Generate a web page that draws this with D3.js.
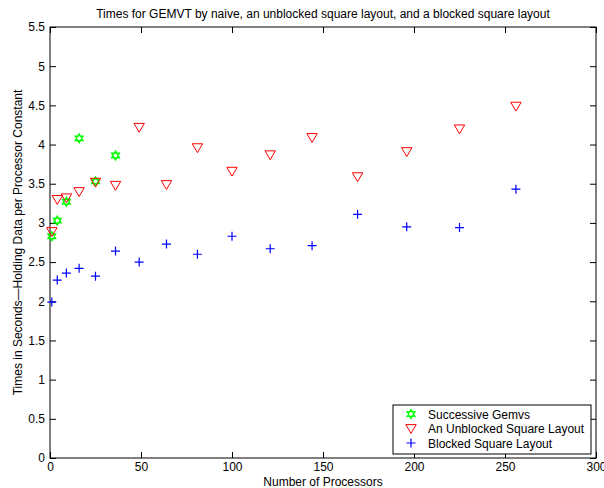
<!DOCTYPE html>
<html>
<head>
<meta charset="utf-8">
<script src="https://cdn.jsdelivr.net/npm/d3@7"></script>
<style>
  body { margin: 0; background: #fff; }
  text { font-family: "Liberation Sans", Arial, sans-serif; }
</style>
</head>
<body>
<svg id="chart" width="604" height="488"></svg>
<script>
// processor counts
const procs = [1, 4, 9, 16, 25, 36, 49, 64, 81, 100, 121, 144, 169, 196, 225, 256];
const gemvsProcs = [1, 4, 9, 16, 25, 36];

// times (seconds)
const gemvsTimes = [2.83, 3.03, 3.27, 4.08, 3.53, 3.86];
const unblockedTimes = [2.89, 3.30, 3.32, 3.40, 3.52, 3.48, 4.22, 3.49, 3.96, 3.66, 3.87, 4.09, 3.59, 3.91, 4.20, 4.49];
const blockedTimes = [1.99, 2.27, 2.36, 2.42, 2.32, 2.64, 2.50, 2.73, 2.60, 2.83, 2.67, 2.71, 3.11, 2.95, 2.94, 3.43];

const xTicks = [0, 50, 100, 150, 200, 250, 300];
const yTicks = [0, 0.5, 1, 1.5, 2, 2.5, 3, 3.5, 4, 4.5, 5, 5.5];

const legendLabels = ["Successive Gemvs", "An Unblocked Square Layout", "Blocked Square Layout"];

const margin = { top: 27, right: 8, bottom: 30, left: 50 };
const width = 604, height = 488;
const svg = d3.select("#chart");

const x = d3.scaleLinear().domain([0, 300]).range([margin.left, width - margin.right]);
const y = d3.scaleLinear().domain([0, 5.5]).range([height - margin.bottom, margin.top]);

const fmt = d => (d === 0 ? "0" : d3.format("~g")(d));

// axes with inward ticks on all four sides
const tick = 6;
svg.append("g")
  .attr("transform", `translate(0,${y(0)})`)
  .call(d3.axisBottom(x).tickValues(xTicks).tickFormat(fmt).tickSizeInner(-tick).tickSizeOuter(0).tickPadding(4))
  .call(g => g.select(".domain").remove());
svg.append("g")
  .attr("transform", `translate(${x(0)},0)`)
  .call(d3.axisLeft(y).tickValues(yTicks).tickFormat(fmt).tickSizeInner(-tick).tickSizeOuter(0).tickPadding(5))
  .call(g => g.select(".domain").remove());
svg.append("g")
  .attr("transform", `translate(0,${y(5.5)})`)
  .call(d3.axisTop(x).tickValues(xTicks).tickFormat("").tickSizeInner(-tick).tickSizeOuter(0))
  .call(g => g.select(".domain").remove());
svg.append("g")
  .attr("transform", `translate(${x(300)},0)`)
  .call(d3.axisRight(y).tickValues(yTicks).tickFormat("").tickSizeInner(-tick).tickSizeOuter(0))
  .call(g => g.select(".domain").remove());

svg.selectAll(".tick text").attr("font-size", 12).attr("fill", "#000")
  .attr("font-family", "'Liberation Sans', Arial, sans-serif");
svg.selectAll(".tick line").attr("stroke", "#000");

svg.append("rect")
  .attr("x", x(0)).attr("y", y(5.5))
  .attr("width", x(300) - x(0)).attr("height", y(0) - y(5.5))
  .attr("fill", "none").attr("stroke", "#000").attr("stroke-width", 1);

// marker shapes
const hexagram = r => {
  const p = [];
  for (let k = 0; k < 2; k++) {
    const pts = d3.range(3).map(i => {
      const a = (k === 0 ? -Math.PI / 2 : Math.PI / 2) + i * 2 * Math.PI / 3;
      return [r * Math.cos(a), r * Math.sin(a)];
    });
    p.push("M" + pts.map(q => q.join(",")).join("L") + "Z");
  }
  return p.join("");
};
const triDown = r => `M${-r},${-r * 0.75}L${r},${-r * 0.75}L0,${r * 0.95}Z`;
const plus = r => `M${-r},0L${r},0M0,${-r}L0,${r}`;

function drawMarker(g, type) {
  if (type === 0) g.append("path").attr("d", hexagram(4.6)).attr("fill", "none").attr("stroke", "#00ff00").attr("stroke-width", 1.2);
  if (type === 1) g.append("path").attr("d", triDown(5.2)).attr("fill", "none").attr("stroke", "#ff0000").attr("stroke-width", 1);
  if (type === 2) g.append("path").attr("d", plus(4.5)).attr("fill", "none").attr("stroke", "#0000ff").attr("stroke-width", 1.2);
}

const series = [
  { type: 0, xs: gemvsProcs, ys: gemvsTimes },
  { type: 1, xs: procs, ys: unblockedTimes },
  { type: 2, xs: procs, ys: blockedTimes }
];
series.forEach(s => {
  s.xs.forEach((p, i) => {
    const g = svg.append("g").attr("transform", `translate(${x(p)},${y(s.ys[i])})`);
    drawMarker(g, s.type);
  });
});

// title and axis labels
svg.append("text").attr("x", (x(0) + x(300)) / 2).attr("y", 18)
  .attr("text-anchor", "middle").attr("font-size", 12).text("Times for GEMVT by naive, an unblocked square layout, and a blocked square layout");
svg.append("text").attr("x", (x(0) + x(300)) / 2).attr("y", 486)
  .attr("text-anchor", "middle").attr("font-size", 12).text("Number of Processors");
svg.append("text").attr("transform", `translate(22,${(y(0) + y(5.5)) / 2}) rotate(-90)`)
  .attr("text-anchor", "middle").attr("font-size", 12).text("Times in Seconds\u2014Holding Data per Processor Constant");

// legend
const lg = svg.append("g").attr("transform", "translate(393,405)");
lg.append("rect").attr("width", 198).attr("height", 49).attr("fill", "#fff").attr("stroke", "#000");
legendLabels.forEach((t, i) => {
  const row = lg.append("g").attr("transform", `translate(18,${9 + i * 14.5})`);
  drawMarker(row, i);
  row.append("text").attr("x", 17).attr("y", 4.5).attr("font-size", 12).text(t);
});
</script>
</body>
</html>
